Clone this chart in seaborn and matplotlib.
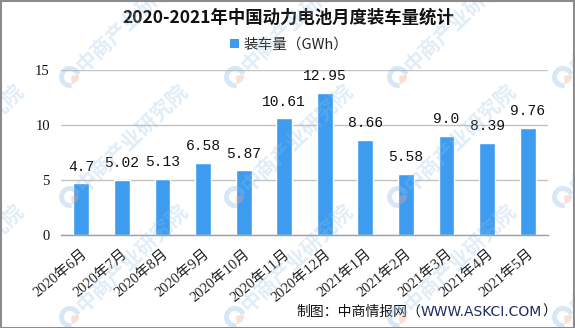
import matplotlib
matplotlib.use("Agg")
import matplotlib.pyplot as plt
import seaborn as sns
import pandas as pd
from matplotlib.patches import Wedge, Rectangle

# Monthly power-battery installations (GWh)
months = ["2020年6月", "2020年7月", "2020年8月", "2020年9月", "2020年10月", "2020年11月",
          "2020年12月", "2021年1月", "2021年2月", "2021年3月", "2021年4月", "2021年5月"]
value_labels = ["4.7", "5.02", "5.13", "6.58", "5.87", "10.61",
                "12.95", "8.66", "5.58", "9.0", "8.39", "9.76"]
values = [float(s) for s in value_labels]
y_ticks = [0, 5, 10, 15]

title = "2020-2021年中国动力电池月度装车量统计"
series_name = "装车量（GWh）"
footer_parts = ["制图：中商情报网（", "WWW.ASKCI.COM", "）"]
watermark = "中商产业研究院"

BAR = "#3d9cf0"
W, H = 575, 328

sns.set_theme(style="white")
plt.rcParams["font.family"] = ["Noto Sans CJK SC", "DejaVu Sans"]

df = pd.DataFrame({"month": months, "value": values})

fig = plt.figure(figsize=(W / 100, H / 100), dpi=100)
fig.patch.set_facecolor("white")

ax = fig.add_axes([61 / W, 93 / H, 487 / W, 165 / H])
sns.barplot(data=df, x="month", y="value", color=BAR, saturation=1,
            width=0.39, ax=ax, zorder=3)

ax.set_xlim(-0.5, len(months) - 0.5)
ax.set_ylim(0, 15)
ax.set_yticks(y_ticks)
ax.set_ylabel("")
ax.set_xlabel("")
ax.yaxis.grid(True, color="#c3c3c3", lw=1)
ax.set_axisbelow(True)
for s in ["left", "top", "right"]:
    ax.spines[s].set_visible(False)
ax.spines["bottom"].set_color("#a0a0a0")
ax.spines["bottom"].set_linewidth(1)
ax.spines["bottom"].set_zorder(4)

ax.tick_params(axis="y", length=0, pad=8, labelsize=10.5, labelcolor="#111111")
for t in ax.get_yticklabels():
    t.set_family(["Liberation Serif", "Noto Sans CJK SC"])

# category boundary ticks below the axis
ax.set_xticks([i - 0.5 for i in range(len(months) + 1)], minor=True)
ax.tick_params(axis="x", which="minor", length=5, width=1, color="#a0a0a0", direction="out")
ax.tick_params(axis="x", which="major", length=0, pad=9)
ax.set_xticks(range(len(months)))
ax.set_xticklabels(months, rotation=40, ha="right", va="top", rotation_mode="anchor",
                   fontsize=10.5, color="#222222",
                   family=["Liberation Serif", "Noto Sans CJK SC"])

# value labels above each bar
for i, (v, lab) in enumerate(zip(values, value_labels)):
    ax.annotate(lab, (i, v), xytext=(0, 7), textcoords="offset points",
                ha="center", va="bottom", fontsize=10.5, color="#111111",
                family="Liberation Mono")

fig.text(288 / W, 1 - 18 / H, title, ha="center", va="center",
         fontsize=12.5, fontweight="bold", color="#111111")

handle = Rectangle((0, 0), 1, 1, facecolor=BAR, edgecolor="none")
fig.legend([handle], [series_name], loc="center", bbox_to_anchor=(289 / W, 1 - 45 / H),
           frameon=False, fontsize=10.5, handlelength=0.6, handleheight=0.6,
           handletextpad=0.3, borderpad=0)

# footer credit, right aligned, URL in navy
renderer = fig.canvas.get_renderer()
x_right = 556
colors = ["#111111", "#1b2a66", "#111111"]
families = [["Noto Sans CJK SC"], ["DejaVu Sans"], ["Noto Sans CJK SC"]]
for part, col, fam in reversed(list(zip(footer_parts, colors, families))):
    t = fig.text(x_right / W, 1 - 312 / H, part, ha="right", va="center",
                 fontsize=10, color=col, family=fam)
    bb = t.get_window_extent(renderer)
    x_right -= bb.width

# faint tiled watermark
wm = fig.add_axes([0, 0, 1, 1], zorder=10)
wm.set_xlim(0, W)
wm.set_ylim(H, 0)
wm.axis("off")
wm.patch.set_alpha(0)
for lx in [-94, 70, 235, 398, 563]:
    for ly in [77, 197, 317]:
        wm.add_patch(Wedge((lx, ly), 11, 80, 340, width=5, facecolor="#8fbde3",
                           edgecolor="none", alpha=0.35))
        wm.add_patch(Wedge((lx + 1, ly - 1), 8, -10, 85, facecolor="#f2a58d",
                           edgecolor="none", alpha=0.35))
        wm.text(lx + 9, ly - 8, watermark, rotation=44, rotation_mode="anchor",
                ha="left", va="center", fontsize=15, fontweight="bold",
                color="#8fbde3", alpha=0.28)

# outer frame
fig.add_artist(Rectangle((0.5 / W, 0.5 / H), 1 - 1.5 / W, 1 - 1.5 / H,
                         transform=fig.transFigure, fill=False,
                         edgecolor="#8c8c8c", lw=1.5, zorder=20))

fig.savefig("out.png", dpi=100)
